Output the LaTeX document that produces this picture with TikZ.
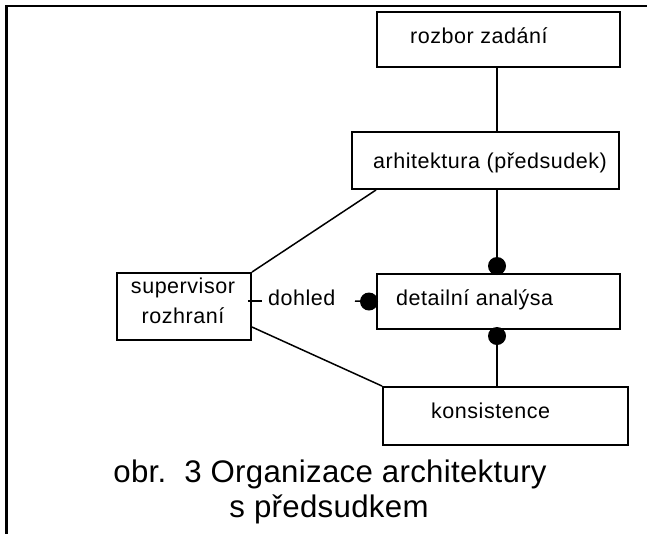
\documentclass[tikz,border=0pt]{standalone}
\usepackage{fontspec}
\setmainfont{Liberation Sans}
\newfontfamily\boxfont{Liberation Sans}[LetterSpace=2.5]
\newfontfamily\capfont{Liberation Sans}[LetterSpace=1]
\usetikzlibrary{calc}

\tikzset{
  frameline/.style={line width=2.5pt, line cap=rect},
  stage/.style={draw, line width=1.9pt, rectangle, inner sep=0pt},
  lbl/.style={inner sep=0pt, font=\boxfont\fontsize{21.5}{26}\selectfont},
  caption/.style={inner sep=0pt, font=\capfont\fontsize{31.2}{36}\selectfont},
  link/.style={line width=1.5pt},
  dot/.style={circle, fill=black, inner sep=0pt, minimum size=18pt},
}

\begin{document}
\begin{tikzpicture}[x=1pt, y=-1pt]
\useasboundingbox (0,0) rectangle (647,533);

% page frame (top and left edges)
\draw[frameline] (6.5,533) -- (6.5,6) -- (647,6);

% stage boxes
\node[stage, minimum width=243pt, minimum height=55pt] (rozbor) at (498.5,39.5) {};
\node[stage, minimum width=267pt, minimum height=57pt] (arch)   at (485.5,160.5) {};
\node[stage, minimum width=243pt, minimum height=55pt] (detail) at (498.5,301.5) {};
\node[stage, minimum width=245pt, minimum height=58pt] (kons)   at (505.5,416) {};
\node[stage, minimum width=134pt, minimum height=67pt] (sup)    at (184,306.5) {};

% box texts
\node[lbl, anchor=base west] (trozbor) at (410,43)  {rozbor zadání};
\node[lbl, anchor=base west] (tarch)   at (373,168) {arhitektura (předsudek)};
\node[lbl, anchor=base west] (tdetail) at (396,305) {detailní analýsa};
\node[lbl, anchor=base west] (tkons)   at (431,418) {konsistence};
\node[lbl, anchor=base] (tsup1) at (183,293) {supervisor};
\node[lbl, anchor=base] (tsup2) at (183,323) {rozhraní};

% filled connection dots
\node[dot] (dtop)  at (497,266) {};
\node[dot] (dbot)  at (497,336) {};
\node[dot] (dleft) at (369,301.5) {};

% connectors
\draw[link] (rozbor.south -| dtop) -- (arch.north -| dtop);
\draw[link] (arch.south -| dtop) -- (dtop.center);
\draw[link] (dbot.center) -- (kons.north -| dbot);
\draw[link] ([xshift=25pt]arch.south west) -- (sup.north east);
\draw[link] ([yshift=-20.5pt]sup.east) -- (kons.north west);

% supervision link with its label
\coordinate (tickA) at (262,301);
\coordinate (tickB) at (355,301);
\draw[link] ([xshift=-4pt]sup.east |- tickA) -- (tickA);
\node[lbl, anchor=base west] (tdohled) at (268,305) {dohled};
\draw[link] (tickB) -- (dleft.center);

% caption
\node[caption, anchor=base] (cap1) at (330,482) {obr.~~3 Organizace architektury};
\node[caption, anchor=base] (cap2) at (329,517) {s předsudkem};
\end{tikzpicture}
\end{document}
